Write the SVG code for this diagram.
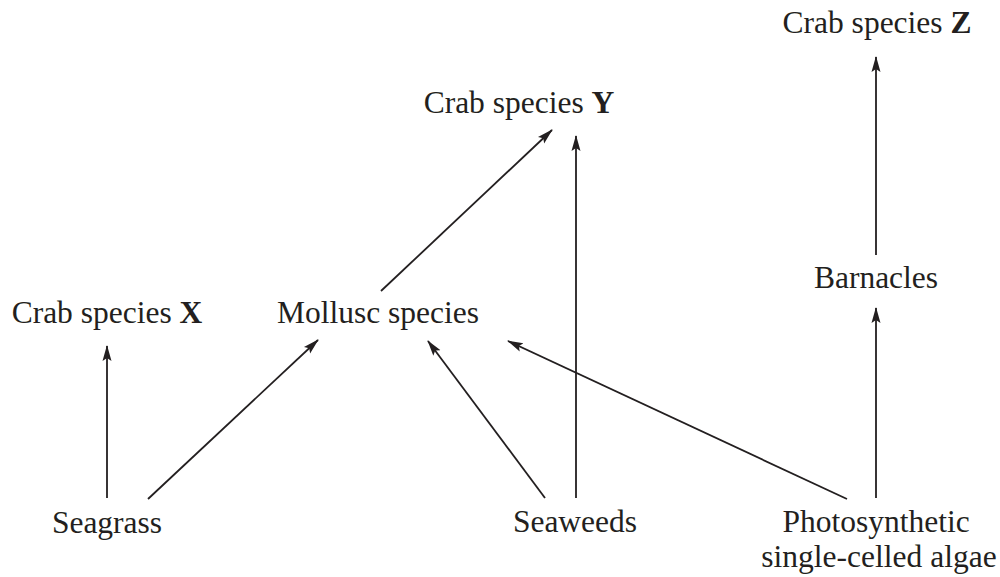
<svg xmlns="http://www.w3.org/2000/svg" width="1000" height="577" viewBox="0 0 1000 577">
<style>
text{font-family:"Liberation Serif","Times New Roman",serif;font-size:31.5px;fill:#231f20;text-anchor:middle}
.b{font-weight:bold}
#connectors line{stroke:#231f20;stroke-width:1.8;marker-end:url(#ah)}
</style>
<defs>
<marker id="ah" markerUnits="userSpaceOnUse" markerWidth="16" markerHeight="12" viewBox="0 0 16 12" refX="15" refY="6" orient="auto">
<path d="M0,1.5 L16,6 L0,10.5 L3,6 Z" fill="#231f20"/>
</marker>
</defs>
<rect width="1000" height="577" fill="#fff"/>
<g id="connectors">
<line x1="107" y1="498" x2="107" y2="346"/>
<line x1="148" y1="499" x2="318" y2="340"/>
<line x1="545" y1="498" x2="428" y2="341"/>
<line x1="576" y1="498" x2="576" y2="136"/>
<line x1="381" y1="291" x2="552" y2="130"/>
<line x1="847" y1="499" x2="508" y2="341"/>
<line x1="876" y1="498" x2="876" y2="308"/>
<line x1="876" y1="255" x2="876" y2="57"/>
</g>
<g id="crabX"><text x="107" y="323">Crab species <tspan class="b">X</tspan></text></g>
<g id="mollusc"><text x="378" y="323">Mollusc species</text></g>
<g id="crabY"><text x="519" y="113">Crab species <tspan class="b">Y</tspan></text></g>
<g id="crabZ"><text x="877" y="33">Crab species <tspan class="b">Z</tspan></text></g>
<g id="barnacles"><text x="876" y="288">Barnacles</text></g>
<g id="seagrass"><text x="107" y="533">Seagrass</text></g>
<g id="seaweeds"><text x="575" y="532">Seaweeds</text></g>
<g id="algae"><text x="876" y="532">Photosynthetic</text><text x="879" y="567">single-celled algae</text></g>
</svg>
